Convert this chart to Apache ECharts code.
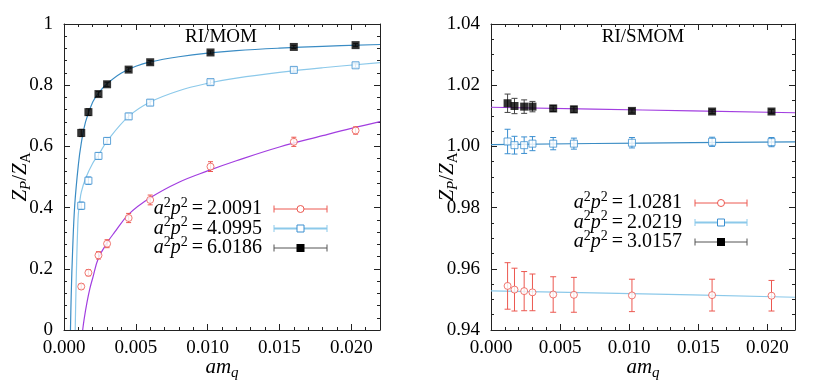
<!DOCTYPE html>
<html><head><meta charset="utf-8">
<script src="https://cdn.jsdelivr.net/npm/echarts@6/dist/echarts.min.js"></script>
<style>html,body{margin:0;padding:0;background:#fff}#c{width:830px;height:383px}</style>
</head><body><div id="c"></div>
<script>
// ---------- data ----------
const amq = [0.0012, 0.0017, 0.0024, 0.003, 0.0045, 0.006, 0.0102, 0.016, 0.0203];
const xTicks = [0, 0.005, 0.010, 0.015, 0.020];

// RI/MOM (left)
const momLabels = ['2.0091', '4.0995', '6.0186'];
const momRed = [0.142, 0.187, 0.244, 0.282, 0.366, 0.425, 0.534, 0.615, 0.652];
const momRedErr = [0.008, 0.010, 0.012, 0.013, 0.015, 0.016, 0.016, 0.015, 0.012];
const momBlue = [0.406, 0.488, 0.569, 0.618, 0.698, 0.743, 0.810, 0.850, 0.865];
const momBlueErr = [0.012, 0.012, 0.011, 0.011, 0.010, 0.009, 0.008, 0.007, 0.007];
const momBlack = [0.644, 0.712, 0.771, 0.803, 0.851, 0.875, 0.907, 0.925, 0.931];
const momBlackErr = [0.012, 0.011, 0.008, 0.007, 0.006, 0.006, 0.005, 0.005, 0.005];
const momFitBlack = [[0.00045,0],[0.0005,0.11],[0.0006,0.26],[0.00075,0.41],[0.001,0.54],[0.0012,0.61],[0.0015,0.68],[0.002,0.745],[0.0025,0.78],[0.003,0.805],[0.004,0.84],[0.005,0.862],[0.006,0.876],[0.008,0.893],[0.010,0.905],[0.012,0.913],[0.015,0.921],[0.018,0.927],[0.022,0.933]];
const momFitBlue = [[0.00078,0],[0.00082,0.10],[0.00088,0.22],[0.00095,0.33],[0.001,0.38],[0.0011,0.42],[0.0012,0.45],[0.0015,0.495],[0.002,0.545],[0.0024,0.572],[0.003,0.617],[0.0045,0.698],[0.006,0.745],[0.008,0.782],[0.010,0.806],[0.012,0.823],[0.015,0.842],[0.018,0.857],[0.022,0.874]];
const momFitRed = [[0.0013,0],[0.0014,0.035],[0.0016,0.09],[0.0018,0.135],[0.002,0.17],[0.0024,0.235],[0.003,0.285],[0.0035,0.318],[0.0045,0.378],[0.006,0.432],[0.008,0.483],[0.010,0.52],[0.012,0.553],[0.015,0.598],[0.018,0.635],[0.020,0.659],[0.022,0.681]];

// RI/SMOM (right)
const smomLabels = ['1.0281', '2.0219', '3.0157'];
const smomRed = [0.9544, 0.9532, 0.9527, 0.9523, 0.9516, 0.9515, 0.9513, 0.9514, 0.9512];
const smomRedErr = [0.0076, 0.0070, 0.0064, 0.0060, 0.0058, 0.0057, 0.0053, 0.0052, 0.0050];
const smomBlue = [1.0016, 1.0004, 1.0004, 1.0009, 1.0009, 1.0009, 1.0012, 1.0015, 1.0014];
const smomBlueErr = [0.0040, 0.0029, 0.0027, 0.0023, 0.0020, 0.0018, 0.0017, 0.0015, 0.0015];
const smomBlack = [1.0141, 1.0132, 1.0130, 1.0130, 1.0124, 1.0121, 1.0116, 1.0114, 1.0114];
const smomBlackErr = [0.0030, 0.0025, 0.0022, 0.0017, 0.0010, 0.0010, 0.0007, 0.0007, 0.0007];
const smomFitBlack = [[0, 1.0128], [0.011, 1.0119], [0.022, 1.0110]];
const smomFitBlue = [[0, 1.0006], [0.011, 1.0011], [0.022, 1.0015]];
const smomFitRed = [[0, 0.9528], [0.011, 0.9518], [0.022, 0.9507]];

// ---------- style ----------
const FONT = "'Liberation Serif','DejaVu Serif',serif";
const RED = '#ec5850', BLUE = '#3b8fd0', BLACK = '#000';
const FIT_DARK = '#3a8cc4', FIT_LIGHT = '#8cc9ea', PURPLE = '#a23ee0';
const AX = '#222';

function mkRich(fs, ss, lh) {
  return {
    i: {fontFamily: FONT, fontStyle: 'italic', fontSize: fs, color: '#000', lineHeight: lh},
    n: {fontFamily: FONT, fontSize: fs, color: '#000', lineHeight: lh},
    sup: {fontFamily: FONT, fontSize: ss, color: '#000', verticalAlign: 'top', lineHeight: ss + 1},
    subi: {fontFamily: FONT, fontStyle: 'italic', fontSize: ss, color: '#000', verticalAlign: 'bottom', lineHeight: ss + 1},
    sub: {fontFamily: FONT, fontSize: ss, color: '#000', verticalAlign: 'bottom', lineHeight: ss + 1}
  };
}
const richName = mkRich(21, 15, 28);
const richLeg = mkRich(20, 14, 26);

function xAx(gi, bottom) {
  return {
    type: 'value', gridIndex: gi, position: bottom ? 'bottom' : 'top',
    min: 0, max: 0.022, interval: 0.005,
    axisLine: {show: true, onZero: false, lineStyle: {color: AX, width: 1}},
    axisTick: {show: true, inside: true, length: 6, lineStyle: {color: AX}},
    minorTick: {show: true, splitNumber: 5, length: 3, lineStyle: {color: AX}},
    splitLine: {show: false},
    axisLabel: {show: bottom, fontFamily: FONT, fontSize: 19, color: '#000', margin: 9,
      showMaxLabel: false, formatter: v => xTicks.some(t => Math.abs(t - v) < 1e-9) ? v.toFixed(3) : ''},
    name: bottom ? '{i|am}{subi|q}' : '', nameLocation: 'middle', nameGap: 23, nameMoveOverlap: false,
    nameTextStyle: {rich: richName}
  };
}
function yAx(gi, left, min, max, interval, split, fmt) {
  return {
    type: 'value', gridIndex: gi, position: left ? 'left' : 'right',
    min: min, max: max, interval: interval,
    axisLine: {show: true, onZero: false, lineStyle: {color: AX, width: 1}},
    axisTick: {show: true, inside: true, length: 6, lineStyle: {color: AX}},
    minorTick: {show: true, splitNumber: split, length: 3, lineStyle: {color: AX}},
    splitLine: {show: false},
    axisLabel: {show: left, fontFamily: FONT, fontSize: 19, color: '#000', margin: 11, formatter: fmt},
    name: left ? '{i|Z}{subi|P}{n|/}{i|Z}{sub|A}' : '', nameLocation: 'middle', nameGap: 30, nameRotate: 90,
    nameMoveOverlap: false,
    nameTextStyle: {rich: richName}
  };
}

function errSeries(ys, es, color, xi, yi, cap) {
  return {
    type: 'custom', xAxisIndex: xi, yAxisIndex: yi, silent: true, z: 3,
    encode: {x: 0, y: [1, 2]},
    data: amq.map((x, i) => [x, ys[i] - es[i], ys[i] + es[i]]),
    renderItem: (params, api) => {
      const lo = api.coord([api.value(0), api.value(1)]);
      const hi = api.coord([api.value(0), api.value(2)]);
      const st = {stroke: color, lineWidth: 1};
      return {type: 'group', children: [
        {type: 'line', shape: {x1: lo[0], y1: lo[1], x2: hi[0], y2: hi[1]}, style: st},
        {type: 'line', shape: {x1: lo[0] - cap, y1: lo[1], x2: lo[0] + cap, y2: lo[1]}, style: st},
        {type: 'line', shape: {x1: hi[0] - cap, y1: hi[1], x2: hi[0] + cap, y2: hi[1]}, style: st}
      ]};
    }
  };
}
function ptSeries(ys, kind, color, xi, yi) {
  const filled = kind === 'fill';
  return {
    type: 'scatter', xAxisIndex: xi, yAxisIndex: yi, z: 4, silent: true,
    symbol: kind === 'circle' ? 'circle' : 'rect',
    symbolSize: filled ? 8 : 7,
    itemStyle: {color: filled ? color : '#fff', borderColor: color, borderWidth: filled ? 0 : 1},
    data: amq.map((x, i) => [x, ys[i]])
  };
}
function fitSeries(pts, color, xi, yi) {
  return {
    type: 'line', xAxisIndex: xi, yAxisIndex: yi, z: 2, silent: true,
    showSymbol: false, smooth: 0.4, clip: true,
    lineStyle: {color: color, width: 1.2},
    data: pts
  };
}

function legendGraphics(labels, textRight, lineL, lineR, y0, dy, styles) {
  const out = [];
  labels.forEach((lab, i) => {
    const y = y0 + i * dy;
    const s = styles[i];
    out.push({type: 'text', x: textRight, y: y, z: 10,
      style: {text: '{i|a}{sup|2}{i|p}{sup|2}{n|\u2009=\u2009' + lab + '}', rich: richLeg, align: 'right', verticalAlign: 'middle'}});
    out.push({type: 'line', shape: {x1: lineL, y1: y, x2: lineR, y2: y}, style: {stroke: s.line, lineWidth: s.lw}, z: 10});
    out.push({type: 'line', shape: {x1: lineL, y1: y - 3.5, x2: lineL, y2: y + 3.5}, style: {stroke: s.line, lineWidth: 1}, z: 10});
    out.push({type: 'line', shape: {x1: lineR, y1: y - 3.5, x2: lineR, y2: y + 3.5}, style: {stroke: s.line, lineWidth: 1}, z: 10});
    const cx = (lineL + lineR) / 2;
    if (s.kind === 'circle') out.push({type: 'circle', shape: {cx: cx, cy: y, r: 3.5}, style: {fill: '#fff', stroke: s.color, lineWidth: 1}, z: 11});
    else if (s.kind === 'rect') out.push({type: 'rect', shape: {x: cx - 3.5, y: y - 3.5, width: 7, height: 7}, style: {fill: '#fff', stroke: s.color, lineWidth: 1}, z: 11});
    else out.push({type: 'rect', shape: {x: cx - 4, y: y - 4, width: 8, height: 8}, style: {fill: s.color}, z: 11});
  });
  return out;
}
const legStyles = [
  {kind: 'circle', color: RED, line: RED, lw: 1},
  {kind: 'rect', color: BLUE, line: FIT_LIGHT, lw: 2},
  {kind: 'fill', color: BLACK, line: '#555', lw: 1}
];

const chart = echarts.init(document.getElementById('c'), null, {renderer: 'canvas'});
chart.setOption({
  animation: false,
  backgroundColor: '#fff',
  grid: [
    {left: 64, top: 24, width: 316, height: 306, containLabel: false, outerBoundsMode: 'none'},
    {left: 491, top: 24, width: 304, height: 306, containLabel: false, outerBoundsMode: 'none'}
  ],
  xAxis: [xAx(0, true), xAx(0, false), xAx(1, true), xAx(1, false)],
  yAxis: [
    yAx(0, true, 0, 1, 0.2, 5, null),
    yAx(0, false, 0, 1, 0.2, 5, null),
    yAx(1, true, 0.94, 1.04, 0.02, 4, v => v.toFixed(2)),
    yAx(1, false, 0.94, 1.04, 0.02, 4, v => v.toFixed(2))
  ],
  series: [
    fitSeries(momFitRed, PURPLE, 0, 0),
    fitSeries(momFitBlue, FIT_LIGHT, 0, 0),
    fitSeries(momFitBlack, FIT_DARK, 0, 0),
    errSeries(momRed, momRedErr, RED, 0, 0, 2.5),
    errSeries(momBlue, momBlueErr, BLUE, 0, 0, 2.5),
    errSeries(momBlack, momBlackErr, '#444', 0, 0, 2.5),
    ptSeries(momRed, 'circle', RED, 0, 0),
    ptSeries(momBlue, 'rect', BLUE, 0, 0),
    ptSeries(momBlack, 'fill', BLACK, 0, 0),

    fitSeries(smomFitRed, FIT_LIGHT, 2, 2),
    fitSeries(smomFitBlue, FIT_DARK, 2, 2),
    fitSeries(smomFitBlack, PURPLE, 2, 2),
    errSeries(smomRed, smomRedErr, RED, 2, 2, 3),
    errSeries(smomBlue, smomBlueErr, BLUE, 2, 2, 3),
    errSeries(smomBlack, smomBlackErr, '#444', 2, 2, 3),
    ptSeries(smomRed, 'circle', RED, 2, 2),
    ptSeries(smomBlue, 'rect', BLUE, 2, 2),
    ptSeries(smomBlack, 'fill', BLACK, 2, 2)
  ],
  graphic: [
    {type: 'text', x: 221, y: 37, z: 10, style: {text: 'RI/MOM', font: '19px ' + FONT, fill: '#000', align: 'center', verticalAlign: 'middle'}},
    {type: 'text', x: 643, y: 37, z: 10, style: {text: 'RI/SMOM', font: '19px ' + FONT, fill: '#000', align: 'center', verticalAlign: 'middle'}}
  ].concat(
    legendGraphics(momLabels, 262, 274, 327, 209, 19.5, legStyles),
    legendGraphics(smomLabels, 682, 695, 747, 203, 19.5, legStyles)
  )
});
</script>
</body></html>
